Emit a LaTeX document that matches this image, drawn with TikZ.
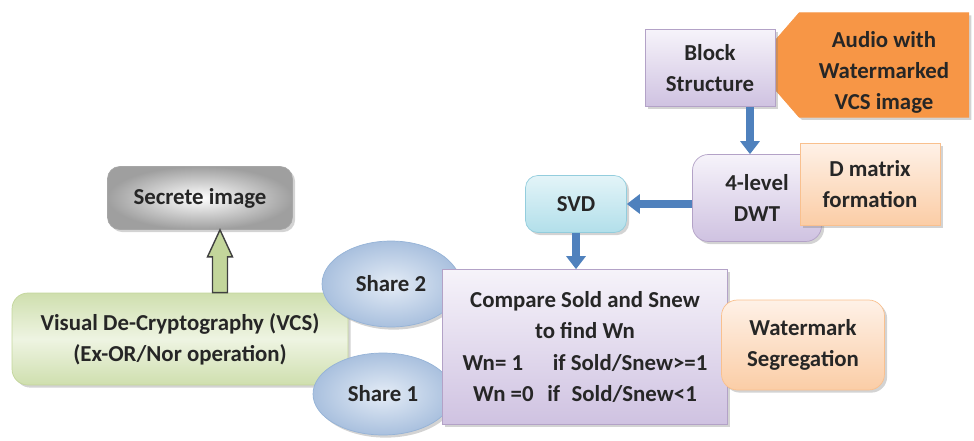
\documentclass[tikz,border=0pt]{standalone}
\usepackage{fontspec}
\setmainfont{Carlito}
\usetikzlibrary{arrows.meta, shapes.geometric, shapes.symbols, shadows, calc}

\definecolor{lilacline}{HTML}{B3A2C7}
\definecolor{lilactop}{HTML}{F6F3FA}
\definecolor{lilacbot}{HTML}{CFC2E1}
\definecolor{peachline}{HTML}{F9C08E}
\definecolor{peachtop}{HTML}{FEF1E7}
\definecolor{peachbot}{HTML}{FBCDA6}
\definecolor{audioorange}{HTML}{F79646}
\definecolor{svdline}{HTML}{93CDDD}
\definecolor{svdtop}{HTML}{E3F4F8}
\definecolor{svdbot}{HTML}{B2DFEA}
\definecolor{vcsline}{HTML}{C3D69B}
\definecolor{vcstop}{HTML}{CFDFAE}
\definecolor{vcsmid}{HTML}{EEF4E2}
\definecolor{shareline}{HTML}{95B3D7}
\definecolor{shareinner}{HTML}{E4ECF6}
\definecolor{shareouter}{HTML}{A9C0DE}
\definecolor{flowblue}{HTML}{4F81BD}
\definecolor{upgreen}{HTML}{C3D69B}

\begin{document}
\begin{tikzpicture}[x=0.02cm, y=-0.02cm,
    lbl/.style={font=\bfseries\fontsize{13}{17.8}\selectfont, align=center, text=black!85, inner sep=2pt},
    shade/.style={drop shadow={shadow xshift=1.5pt, shadow yshift=-1.5pt, opacity=0.35}},
    lilacbox/.style={lbl, shade, draw=lilacline, top color=lilactop, bottom color=lilacbot},
    peachbox/.style={lbl, shade, draw=peachline, top color=peachtop, bottom color=peachbot},
    audiobox/.style={lbl, shade, signal, signal to=west, signal pointer angle=98, fill=audioorange, draw=audioorange},
    svdbox/.style={lbl, shade, rounded corners=7pt, draw=svdline, top color=svdtop, bottom color=svdbot},
    vcsbox/.style={lbl, shade, rounded corners=9pt, draw=vcsline, top color=vcstop, bottom color=vcstop, middle color=vcsmid},
    secretbox/.style={lbl, shade, rounded corners=7pt, draw=gray!70, inner color=white, outer color=gray!75},
    sharebox/.style={lbl, shade, ellipse, draw=shareline, inner color=shareinner, outer color=shareouter},
    bluearrow/.style={draw=flowblue, line width=0.17cm, -{Triangle[width=0.38cm, length=0.26cm]}},
    greenarrow/.style={fill=upgreen, draw=black!75, line width=0.8pt}]

    % Frame:
    \useasboundingbox (0,0) rectangle (974,440);
    \clip (0,0) rectangle (974,440);

    % Input side:
    \node[audiobox, minimum width=4.3cm, minimum height=2.08cm] (audio) at (884,65) {\rule{0pt}{0.62cm}Audio with\\Watermarked\\VCS image};
    \node[lilacbox, minimum width=2.6cm, minimum height=1.54cm] (block) at (710,68) {Block\\Structure};
    \node[lilacbox, rounded corners=9pt, minimum width=2.58cm, minimum height=1.74cm] (dwt) at (757,198) {4-level\\DWT};
    \node[peachbox, minimum width=2.8cm, minimum height=1.64cm] (dmatrix) at (870,184) {D matrix\\formation};
    \node[svdbox, minimum width=2.02cm, minimum height=1.14cm] (svd) at (576,204) {SVD};

    % Output side:
    \node[vcsbox, minimum width=6.72cm, minimum height=1.84cm] (vcs) at (180,339) {Visual De-Cryptography (VCS)\\(Ex-OR/Nor operation)};
    \node[secretbox, minimum width=3.7cm, minimum height=1.26cm] (secret) at (200,198) {Secrete image};
    \node[sharebox, minimum width=2.76cm, minimum height=1.72cm] (share2) at (391,284) {Share 2};
    \node[sharebox, minimum width=2.8cm, minimum height=1.64cm] (share1) at (383,394) {Share 1};
    \node[lilacbox, minimum width=5.7cm, minimum height=3.1cm] (compare) at (585,347)
        {Compare Sold and Snew\\to find Wn\\Wn= 1\hspace{1.3em}if Sold/Snew>=1\\Wn =0\hspace{0.6em}if\hspace{0.5em}Sold/Snew<1};
    \node[peachbox, rounded corners=9pt, minimum width=3.26cm, minimum height=1.8cm] (wmseg) at (803,345) {Watermark\\Segregation};

    % Arrows:
    \draw[bluearrow] ([xshift=0.8cm]block.south) -- ([xshift=0.8cm]block.south |- dwt.north);
    \draw[bluearrow] (dwt.west |- svd.east) -- (svd.east);
    \draw[bluearrow] (svd.south) -- (svd.south |- compare.north);

    \coordinate (gtip) at ([xshift=0.4cm]secret.south);
    \coordinate (gfoot) at (gtip |- vcs.north);
    \filldraw[greenarrow] (gtip) -- ++(12.5,27) -- ++(-5,0) -- ($(gfoot)+(7.5,0)$)
        -- ($(gfoot)+(-7.5,0)$) -- ($(gtip)+(-7.5,27)$) -- ++(-5,0) -- cycle;
\end{tikzpicture}
\end{document}
